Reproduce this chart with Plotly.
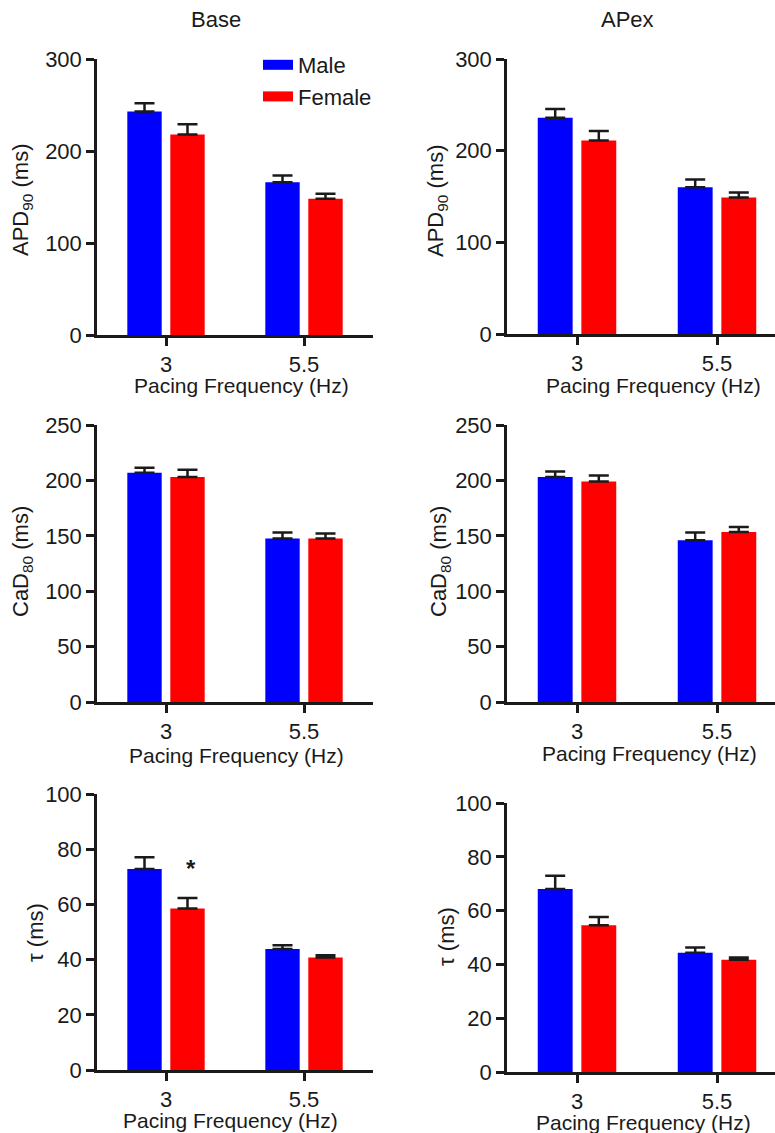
import plotly.graph_objects as go

# ---- data ----
freqs = ["3", "5.5"]
series_names = ["Male", "Female"]
colors = ["#0000FF", "#FF0000"]

base_apd_male = [243, 166]
base_apd_male_err = [9, 7.5]
base_apd_female = [218, 148]
base_apd_female_err = [11, 5.5]

apex_apd_male = [236, 160]
apex_apd_male_err = [9.5, 8.5]
apex_apd_female = [211, 149]
apex_apd_female_err = [10.5, 5.5]

base_cad_male = [207, 147.5]
base_cad_male_err = [4.5, 5.5]
base_cad_female = [203, 147.5]
base_cad_female_err = [6.5, 4.5]

apex_cad_male = [203, 146]
apex_cad_male_err = [5, 7]
apex_cad_female = [199, 153.5]
apex_cad_female_err = [5.5, 4.5]

base_tau_male = [72.8, 43.8]
base_tau_male_err = [4.3, 1.4]
base_tau_female = [58.5, 40.8]
base_tau_female_err = [3.8, 0.8]

apex_tau_male = [68.0, 44.3]
apex_tau_male_err = [5.0, 2.0]
apex_tau_female = [54.6, 41.7]
apex_tau_female_err = [3.0, 0.9]

col_titles = ["Base", "APex"]
y_titles = ["APD<sub>90</sub> (ms)", "CaD<sub>80</sub> (ms)", "\u03c4 (ms)"]
x_title = "Pacing Frequency (Hz)"
y_ranges = [[0, 300], [0, 250], [0, 100]]
y_dticks = [100, 50, 20]

panels = [
    (base_apd_male, base_apd_male_err, base_apd_female, base_apd_female_err),
    (apex_apd_male, apex_apd_male_err, apex_apd_female, apex_apd_female_err),
    (base_cad_male, base_cad_male_err, base_cad_female, base_cad_female_err),
    (apex_cad_male, apex_cad_male_err, apex_cad_female, apex_cad_female_err),
    (base_tau_male, base_tau_male_err, base_tau_female, base_tau_female_err),
    (apex_tau_male, apex_tau_male_err, apex_tau_female, apex_tau_female_err),
]

# ---- layout geometry (pixels) ----
W, H = 775, 1133
FONT = "Liberation Sans, Arial, sans-serif"
TXT = "#1a1a1a"
FS = 22

x_dom_px = [(97, 373), (507, 775)] * 3
y_dom_px = [(59, 335), (59, 334), (425, 702), (425, 702), (794, 1070), (803, 1072)]
x_ranges = [[-0.5, 1.5], [-0.5, -0.5 + 268 / 140]] * 3

fig = go.Figure()
for i, (m, me, f, fe) in enumerate(panels):
    ax = "" if i == 0 else str(i + 1)
    for name, vals, errs, col in [("Male", m, me, colors[0]), ("Female", f, fe, colors[1])]:
        fig.add_trace(go.Bar(
            x=freqs, y=vals, name=name, marker=dict(color=col, line=dict(width=0)),
            error_y=dict(type="data", array=errs, arrayminus=[0] * len(errs), symmetric=False,
                         color=TXT, thickness=2.5, width=10),
            xaxis="x" + ax, yaxis="y" + ax, legendgroup=name, showlegend=False,
        ))

# legend entries (wide rectangular swatches like the reference)
for name, col in zip(series_names, colors):
    fig.add_trace(go.Scatter(
        x=[None], y=[None], mode="lines", name=name, legendgroup=name,
        line=dict(color=col, width=15), showlegend=True, hoverinfo="skip",
    ))

layout = dict(
    width=W, height=H, margin=dict(l=0, r=0, t=0, b=0, pad=0, autoexpand=False),
    paper_bgcolor="white", plot_bgcolor="white",
    barmode="group", bargap=0.377, bargroupgap=0.2,
    font=dict(family=FONT, size=FS, color=TXT),
    legend=dict(x=258 / W, y=1 - 44 / H, xanchor="left", yanchor="top",
                font=dict(size=FS, color=TXT), bgcolor="rgba(0,0,0,0)",
                tracegroupgap=0, itemsizing="trace"),
)
annotations = []
for i in range(6):
    ax = "" if i == 0 else str(i + 1)
    row = i // 2
    x0, x1 = x_dom_px[i]
    y0, y1 = y_dom_px[i]
    layout["xaxis" + ax] = dict(
        domain=[x0 / W, x1 / W], anchor="y" + ax, range=x_ranges[i], type="category",
        showline=True, linecolor=TXT, linewidth=2.5, ticks="outside", ticklen=8, tickwidth=2.5,
        tickcolor=TXT, showgrid=False, zeroline=False, fixedrange=True, automargin=False,
        tickfont=dict(size=FS, color=TXT),
    )
    layout["yaxis" + ax] = dict(
        domain=[1 - y1 / H, 1 - y0 / H], anchor="x" + ax, range=y_ranges[row], dtick=y_dticks[row],
        tick0=0, showline=True, linecolor=TXT, linewidth=2.5, ticks="outside", ticklen=8, tickwidth=2.5,
        tickcolor=TXT, showgrid=False, zeroline=False, fixedrange=True, automargin=False,
        tickfont=dict(size=FS, color=TXT),
    )
# the dummy legend traces live on the first axes
fig.data[-1].update(xaxis="x", yaxis="y")
fig.data[-2].update(xaxis="x", yaxis="y")

# x-axis titles
x_title_pos = [(241, 385), (653, 385), (236, 755), (649, 753), (231, 1120), (643, 1122)]
for (px, py) in x_title_pos:
    annotations.append(dict(text=x_title, x=px / W, y=1 - py / H, xref="paper", yref="paper",
                            showarrow=False, xanchor="center", yanchor="middle",
                            font=dict(size=21, color=TXT)))
# y-axis titles
y_title_pos = [(22, 200), (437, 201), (22, 562), (440, 562), (35, 933), (447, 937)]
for i, (px, py) in enumerate(y_title_pos):
    annotations.append(dict(text=y_titles[i // 2], x=px / W, y=1 - py / H, xref="paper", yref="paper",
                            showarrow=False, xanchor="center", yanchor="middle", textangle=-90,
                            font=dict(size=FS, color=TXT)))
# column titles
for (px, py), t in zip([(216, 19), (627, 19)], col_titles):
    annotations.append(dict(text=t, x=px / W, y=1 - py / H, xref="paper", yref="paper",
                            showarrow=False, xanchor="center", yanchor="middle",
                            font=dict(size=FS, color=TXT)))
# significance marker on Base tau, 3 Hz female
annotations.append(dict(text="<b>*</b>", x=0.18, y=73, xref="x5", yref="y5", showarrow=False,
                        xanchor="center", yanchor="middle", font=dict(size=24, color=TXT)))
layout["annotations"] = annotations

fig.update_layout(**layout)
fig.write_html("out.html")
